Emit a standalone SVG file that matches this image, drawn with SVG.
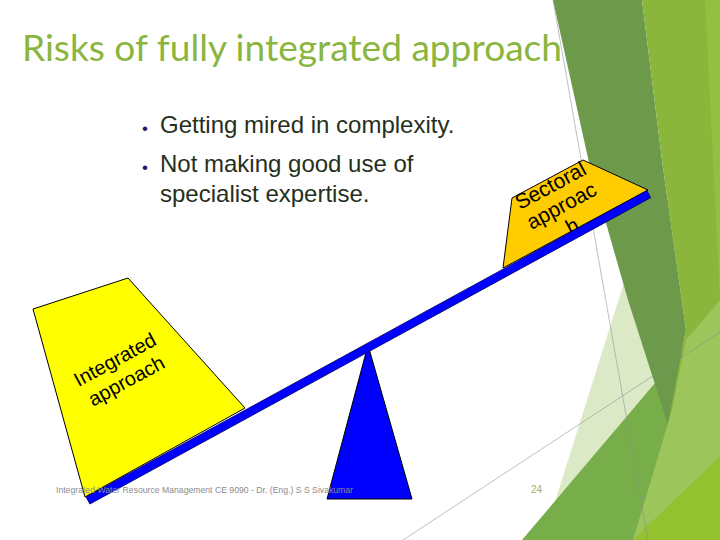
<svg xmlns="http://www.w3.org/2000/svg" width="720" height="540" viewBox="0 0 720 540">
  <style>
    .title { font-family: "Lato", "Open Sans", sans-serif; font-size: 37px; fill: #8AB640; }
    .bullet { font-family: "Liberation Sans", Arial, sans-serif; font-size: 24px; fill: #262F1B; }
    .dot { font-family: "Liberation Sans", Arial, sans-serif; font-size: 17px; fill: #1C1C5E; }
    .lbl { font-family: "Liberation Sans", Arial, sans-serif; font-size: 20px; fill: #000000; text-anchor: middle; }
    .lbl2 { font-family: "Liberation Sans", Arial, sans-serif; font-size: 21px; fill: #000000; text-anchor: middle; }
    .footer { font-family: "Liberation Sans", Arial, sans-serif; font-size: 9px; fill: #8C8C8C; }
    .pgnum { font-family: "Liberation Sans", Arial, sans-serif; font-size: 10px; fill: #A5AE62; }
    .thin { fill: none; stroke: #8E8E8E; stroke-width: 0.8; stroke-opacity: 0.7; }
    .shape { stroke: #000000; stroke-width: 1; stroke-linejoin: round; }
  </style>
  <rect x="0" y="0" width="720" height="540" fill="#FFFFFF"/>

  <g id="background">
    <polygon points="650,200 720,200 720,540 543,540" fill="#DBE9C6"/>
    <polygon points="522,540 700,330 720,330 720,540" fill="#78AE4A"/>
    <polygon points="553,0 642,0 662,160 686,330 668,425 628,300 590,167" fill="#6C9A4A"/>
    <polygon points="642,0 720,0 720,540 633,540 668,425 686,330 662,160" fill="#8AB63C"/>
    <polygon points="705,0 720,0 720,300" fill="#93C040"/>
    <polygon points="672,410 686,340 720,300 720,457 633,540" fill="#9CC55C"/>
    <polygon points="633,540 720,457 720,540" fill="#93C12F"/>
    <line class="thin" x1="553" y1="0" x2="648" y2="540"/>
    <line class="thin" x1="403" y1="540" x2="720" y2="332"/>
  </g>

  <g id="title">
    <text class="title" x="22" y="61" textLength="540" lengthAdjust="spacingAndGlyphs">Risks of fully integrated approach</text>
  </g>

  <g id="bullets">
    <text class="dot" x="142" y="134">•</text>
    <text class="bullet" x="160" y="133">Getting mired in complexity.</text>
    <text class="dot" x="142" y="173">•</text>
    <text class="bullet" x="160" y="172">Not making good use of</text>
    <text class="bullet" x="160" y="202">specialist expertise.</text>
  </g>

  <g id="fulcrum">
    <polygon class="shape" points="368,345 412,499 327,499" fill="#0000FF"/>
  </g>

  <g id="integrated">
    <polygon class="shape" points="33,309 128,278 245,408 85,497" fill="#FFFF00"/>
    <g transform="translate(121,371) rotate(-28.5)">
      <text class="lbl" x="0" y="-6">Integrated</text>
      <text class="lbl" x="0" y="18">approach</text>
    </g>
  </g>

  <g id="sectoral">
    <polygon class="shape" points="503,268 512,198 583,160 648,190" fill="#FFCC00"/>
    <g transform="translate(561,205) rotate(-28.4)">
      <text class="lbl2" x="0" y="-15">Sectoral</text>
      <text class="lbl2" x="0" y="8">approac</text>
      <text class="lbl2" x="0" y="31">h</text>
    </g>
  </g>

  <g id="connectors">
    <g id="beam" transform="translate(88,500.5) rotate(-28.65)">
      <rect x="0" y="-4" width="639" height="8" fill="#0000FF" stroke="#00006A" stroke-width="0.8"/>
    </g>
  </g>

  <g id="footer">
    <text class="footer" x="56" y="493" textLength="297" lengthAdjust="spacingAndGlyphs">Integrated Water Resource Management CE 9090 - Dr. (Eng.) S S Sivakumar</text>
    <text class="pgnum" x="531" y="493">24</text>
  </g>
</svg>
